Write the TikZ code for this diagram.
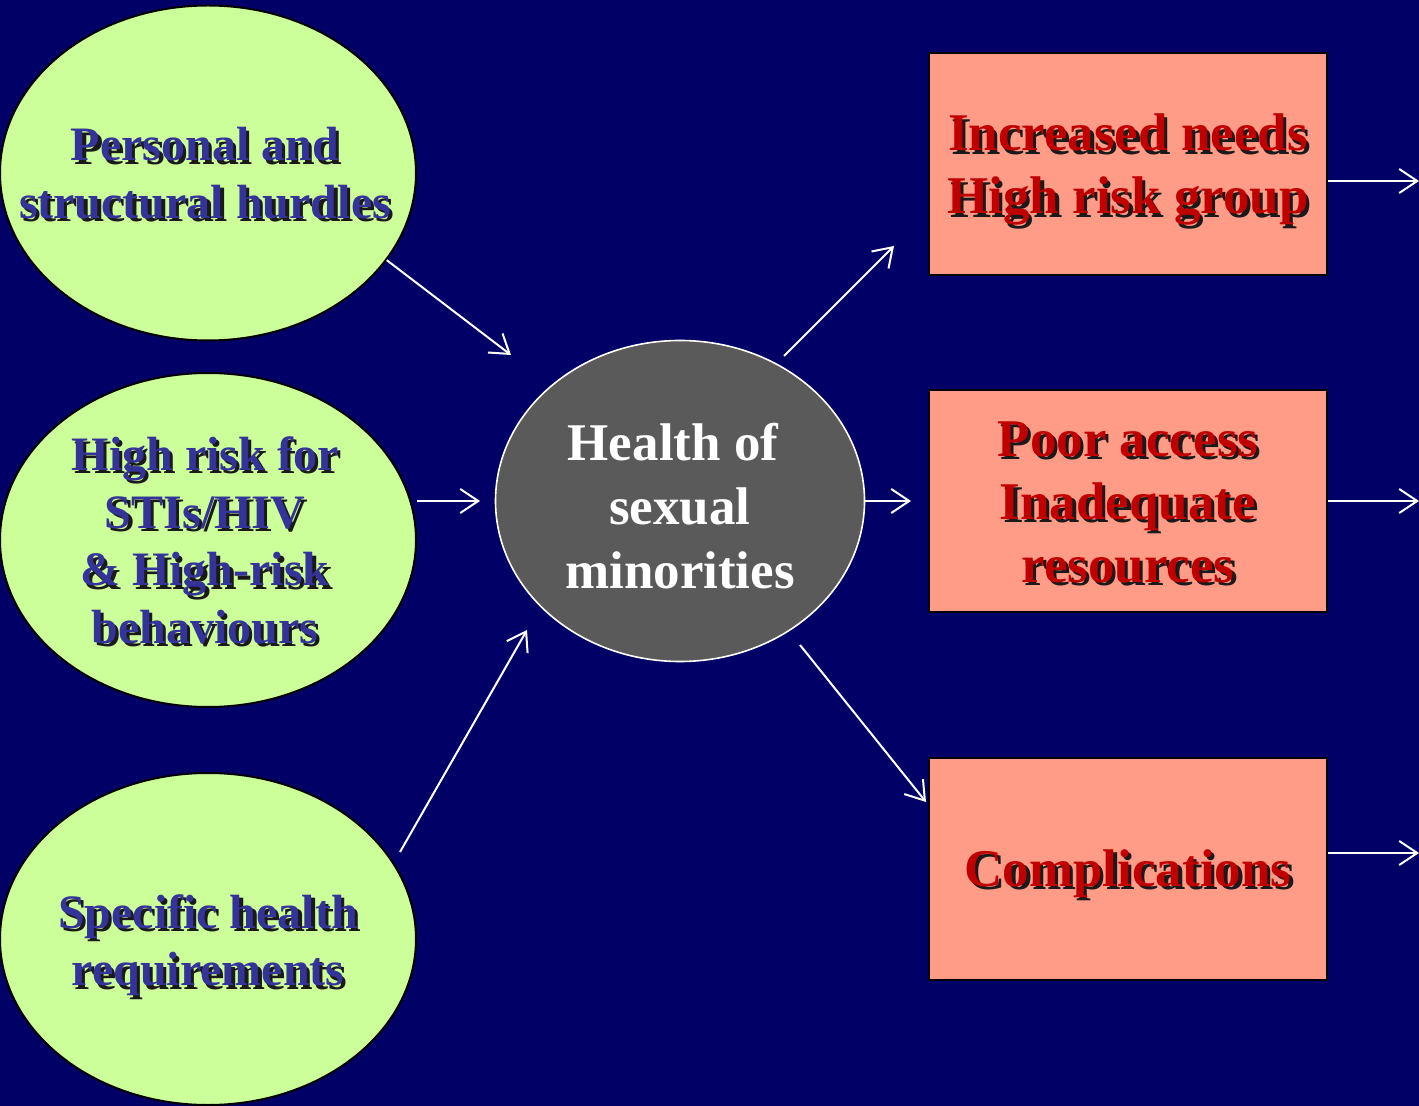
\documentclass[tikz,border=0pt]{standalone}
\usepackage{fontspec}
\setmainfont{Liberation Serif}
\usetikzlibrary{shapes.geometric,arrows.meta}
\definecolor{bgc}{HTML}{000066}
\definecolor{greenc}{HTML}{CCFF99}
\definecolor{bluetxt}{HTML}{333399}
\definecolor{salmonc}{HTML}{FF9C88}
\definecolor{redtxt}{HTML}{C00000}
\definecolor{grayc}{HTML}{5A5A5A}
\definecolor{shadowc}{HTML}{1A1A1A}
\newcommand\shl[1]{\rlap{\kern1.6pt\raisebox{-1.6pt}{\color{shadowc}#1}}#1}
\begin{document}
\begin{tikzpicture}[x=0.5pt,y=-0.5pt,
  inell/.style={ellipse, draw=black, line width=1pt, fill=greenc, inner sep=0pt},
  intext/.style={inner sep=0pt, text=bluetxt, font=\fontsize{24}{28.8}\selectfont\bfseries, align=center},
  hub/.style={ellipse, draw=white, line width=0.8pt, fill=grayc, inner sep=0pt},
  hubtext/.style={inner sep=0pt, text=white, font=\fontsize{26.5}{32}\selectfont\bfseries, align=center},
  outbox/.style={rectangle, draw=black, line width=1pt, fill=salmonc, inner sep=0pt,
    minimum width=199pt, minimum height=111pt},
  outtext/.style={inner sep=0pt, text=redtxt, font=\fontsize{26.5}{31.5}\selectfont\bfseries, align=center},
  arr/.style={draw=white, line width=1pt, -{Straight Barb[length=9pt,width=12pt]}}]
\fill[bgc] (0,0) rectangle (1419,1106);
\useasboundingbox (0,0) rectangle (1419,1106);

% input ellipses
\node[inell, minimum width=208pt, minimum height=167.5pt,
  label={[intext, xshift=-1.5pt, yshift=-1pt]center:{\shl{Personal and}\\\shl{structural hurdles}}}] (e1) at (208,173) {};
\node[inell, minimum width=208pt, minimum height=167pt,
  label={[intext, xshift=-1.5pt, yshift=-1pt]center:{\shl{High risk for}\\\shl{STIs/HIV}\\\shl{\& High-risk}\\\shl{behaviours}}}] (e2) at (208,540) {};
\node[inell, minimum width=208pt, minimum height=166pt,
  label={[intext, yshift=-4pt]center:{\shl{Specific health}\\\shl{requirements}}}] (e3) at (208,939) {};

% hub
\node[hub, minimum width=184.5pt, minimum height=160.5pt,
  label={[hubtext, yshift=-2.5pt]center:{Health of\hspace*{7pt}\\sexual\\minorities}}] (c) at (680,501) {};

% output boxes
\node[outbox, label={[outtext, yshift=-3.5pt]center:{\shl{Increased needs}\\\shl{High risk group}}}] (b1) at (1128,164.5) {};
\node[outbox, label={[outtext, yshift=-1.5pt]center:{\shl{Poor access}\\\shl{Inadequate}\\\shl{resources}}}] (b2) at (1128,501) {};
\node[outbox, label={[outtext, yshift=-3pt]center:{\shl{Complications}}}] (b3) at (1128,869) {};

% coordinates for free arrow ends
\coordinate (t1) at (511,355);
\coordinate (t2) at (480,501);
\coordinate (s3) at (400,852);
\coordinate (t3) at (527,630);
\coordinate (s4) at (784,356);
\coordinate (t4) at (894,246);
\coordinate (t5) at (911,501);
\coordinate (s6) at (800,645);
\coordinate (t6) at (926,802);
\coordinate (r1) at (1419,181);
\coordinate (r2) at (1419,501);
\coordinate (r3) at (1419,853);

% connectors
\draw[arr] (e1.-26.7) -- (t1);
\draw[arr] (e2.east |- t2) -- (t2);
\draw[arr] (s3) -- (t3);
\draw[arr] (s4) -- (t4);
\draw[arr] (c.east) -- (t5);
\draw[arr] (s6) -- (t6);
\draw[arr] (b1.east |- r1) -- (r1);
\draw[arr] (b2.east |- r2) -- (r2);
\draw[arr] (b3.east |- r3) -- (r3);
\end{tikzpicture}
\end{document}
